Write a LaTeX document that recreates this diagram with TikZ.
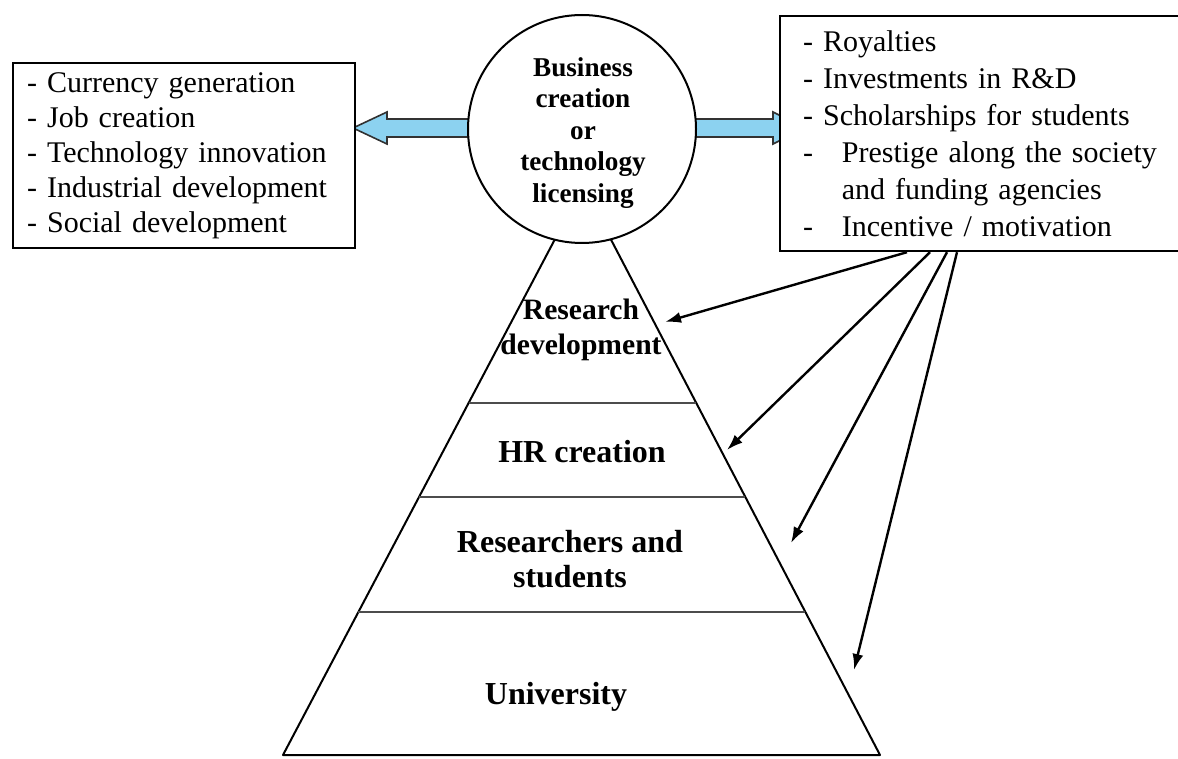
\documentclass[tikz,border=0pt]{standalone}
\usepackage{fontspec}
\setmainfont{Liberation Serif}
\usetikzlibrary{arrows.meta}
\usetikzlibrary{calc}

\begin{document}
\begin{tikzpicture}[x=0.5pt,y=0.5pt,yscale=-1,xscale=1,
  listbox/.style={draw, line width=1.1pt, fill=white, align=left, anchor=north west, inner ysep=0pt},
  levellabel/.style={font=\fontsize{16}{17.5}\selectfont\bfseries, align=center, inner sep=0.75pt},
  gainarrow/.style={line width=1.2pt, -{Latex[length=8pt,width=5.5pt]}},
  blockarrow/.style={draw={rgb,255:red,50;green,50;blue,50}, line width=0.8pt, fill={rgb,255:red,140;green,210;blue,240}}]
\useasboundingbox (0,0) rectangle (1178,759);

%Shape: Pyramid
\coordinate (apex) at (583,186);
\coordinate (baseL) at (283,755);
\coordinate (baseR) at (880,755);
\draw [line width=1pt, line join=round] (apex) -- (baseR) -- (baseL) -- cycle;
%Straight Lines (levels)
\draw [line width=1.3pt, color=black!70] ($(apex)!0.3814!(baseL)$) -- ($(apex)!0.3814!(baseR)$);
\draw [line width=1.3pt, color=black!70] ($(apex)!0.5466!(baseL)$) -- ($(apex)!0.5466!(baseR)$);
\draw [line width=1.3pt, color=black!70] ($(apex)!0.7487!(baseL)$) -- ($(apex)!0.7487!(baseR)$);

%Shape: Left Arrow
\draw [blockarrow] (353,128) -- (387,112) -- (387,119) -- (470,119) -- (470,137) -- (387,137) -- (387,144) -- cycle;
%Shape: Right Arrow
\draw [blockarrow] (694,119) -- (773,119) -- (773,112) -- (805,128) -- (773,144) -- (773,137) -- (694,137) -- cycle;

%Shape: Circle
\node [circle, draw, line width=1pt, fill=white, minimum size=114pt, inner sep=0pt] (hub) at (582,129) {};
% Text Node (circle label)
\node [align=center, inner sep=0.75pt, font=\fontsize{13.6}{15.75}\selectfont\bfseries] (hublabel) at (583,133)
  {Business\\creation\\or\\technology\\licensing};

% Text Node (left list)
\node [listbox, text width=157pt, inner xsep=7pt, minimum height=92.5pt, font=\fontsize{15}{17.5}\selectfont] (lbox) at (12,62)
  {- Currency generation\\- Job creation\\- Technology innovation\\- Industrial development\\- Social development};
% Text Node (right list)
\node [listbox, text width=186pt, inner xsep=11.5pt, minimum height=117.5pt, font=\fontsize{15}{18.5}\selectfont] (rbox) at (779,15)
  {- Royalties\\- Investments in R\&D\\- Scholarships for students\\-\hspace{0.96em}Prestige along the society\\\hspace{1.29em}and funding agencies\\-\hspace{0.96em}Incentive / motivation};

% Text Node (levels)
\node [levellabel, font=\fontsize{14.8}{17.5}\selectfont\bfseries] (rd) at (581,330) {Research\\development};
\node [levellabel] (hr) at (582,452) {HR creation};
\node [levellabel] (rs) at (570,559) {Researchers and\\students};
\node [levellabel] (uni) at (556,697) {University};

%Straight Lines (arrows to the levels)
\coordinate (toRD) at (665,322);
\coordinate (toHR) at (727,450);
\coordinate (toRS) at (791,543);
\coordinate (toUni) at (854,670);
\draw [gainarrow] ($(rbox.south west)+(128,0)$) -- (toRD);
\draw [gainarrow] ($(rbox.south west)+(151,0)$) -- (toHR);
\draw [gainarrow] ($(rbox.south west)+(168,0)$) -- (toRS);
\draw [gainarrow] ($(rbox.south west)+(178,0)$) -- (toUni);

\end{tikzpicture}
\end{document}
